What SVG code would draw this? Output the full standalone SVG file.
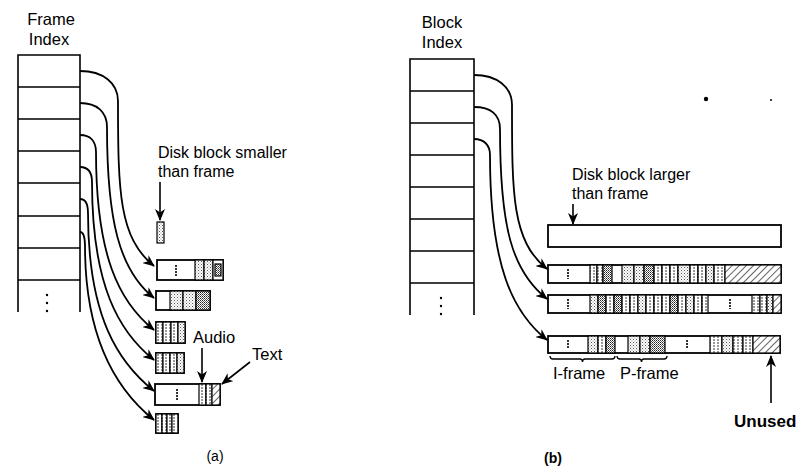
<svg xmlns="http://www.w3.org/2000/svg" width="798" height="470" viewBox="0 0 798 470">
<style>
text{font-family:"Liberation Sans",Arial,sans-serif;font-size:16.5px;fill:#000}
.lb{font-size:16px}
.ix{fill:none;stroke:#000;stroke-width:1.6}
.o{fill:#fff;stroke:#000;stroke-width:1.8}
.s{fill:#fff;stroke:#000;stroke-width:1.2}
.d{fill:url(#dots);stroke:#000;stroke-width:1.2}
.k{fill:url(#dark);stroke:#000;stroke-width:1.2}
.h{fill:url(#hatch);stroke:#000;stroke-width:1.2}
.v{fill:url(#vs);stroke:#000;stroke-width:1.2}
.im{stroke:#000;stroke-width:1.6;stroke-dasharray:2 1}
.c{fill:none;stroke:#000;stroke-width:1.8;marker-end:url(#ah)}
.ar{fill:none;stroke:#000;stroke-width:1.6;marker-end:url(#ah)}
.br{fill:none;stroke:#000;stroke-width:1.3}
</style>
<defs>
<pattern id="dots" width="3" height="3" patternUnits="userSpaceOnUse"><rect width="3" height="3" fill="#fff"/><rect x="0" y="0" width="1" height="1" fill="#555"/><rect x="1.5" y="1.5" width="1" height="1" fill="#888"/></pattern>
<pattern id="dark" width="2" height="2" patternUnits="userSpaceOnUse"><rect width="2" height="2" fill="#fff"/><rect x="0" y="0" width="1" height="1" fill="#222"/><rect x="1" y="1" width="1" height="1" fill="#666"/></pattern>
<pattern id="hatch" width="5" height="5" patternUnits="userSpaceOnUse" patternTransform="rotate(45)"><rect width="5" height="5" fill="#fff"/><line x1="0" y1="0" x2="0" y2="5" stroke="#000" stroke-width="1.2"/></pattern>
<pattern id="vs" width="4" height="3" patternUnits="userSpaceOnUse"><rect width="4" height="3" fill="#fff"/><rect x="1.5" y="0" width="1" height="2" fill="#333"/></pattern>
<marker id="ah" viewBox="0 0 12 10" refX="11" refY="5" markerWidth="12" markerHeight="10" markerUnits="userSpaceOnUse" orient="auto"><path d="M0,0 L12,5 L0,10 L3.5,5 z" fill="#000"/></marker>
</defs>

<!-- Panel (a) -->
<g id="frame-index">
<text x="51" y="25" text-anchor="middle">Frame</text>
<text x="49" y="45" text-anchor="middle">Index</text>
<path class="ix" d="M18,312 V55 H80 V312 M18,87 H80 M18,119 H80 M18,151 H80 M18,183 H80 M18,216 H80 M18,248 H80 M18,280 H80"/>
<circle cx="47" cy="295" r="1.2"/><circle cx="47" cy="303" r="1.2"/><circle cx="47" cy="311" r="1.2"/>
</g>

<g id="small-block-label">
<text class="lb" x="158" y="158">Disk block smaller</text>
<text class="lb" x="158" y="177">than frame</text>
</g>
<g id="small-block"><rect class="d" x="157" y="222" width="7" height="21"/></g>

<g id="a-block1">
<rect class="o" x="157" y="260" width="66" height="20"/>
<rect class="d" x="195" y="260" width="9" height="20"/>
<rect class="d" x="204" y="260" width="9" height="20"/>
<rect class="s" x="213" y="260" width="10" height="20"/>
<rect class="k" x="215" y="264" width="6" height="12"/>
<line class="im" x1="176" y1="265" x2="176" y2="276"/>
</g>
<g id="a-block2">
<rect class="o" x="156" y="291" width="54" height="19"/>
<rect class="d" x="170" y="291" width="13" height="19"/>
<rect class="d" x="183" y="291" width="13" height="19"/>
<rect class="k" x="196" y="291" width="14" height="19"/>
</g>
<g id="a-block3">
<rect class="o" x="156" y="322" width="29" height="21"/>
<rect class="v" x="156" y="322" width="7" height="21"/>
<rect class="v" x="163" y="322" width="8" height="21"/>
<rect class="v" x="171" y="322" width="7" height="21"/>
<rect class="d" x="178" y="322" width="7" height="21"/>
</g>
<g id="a-block4">
<rect class="o" x="156" y="353" width="28" height="20"/>
<rect class="v" x="156" y="353" width="7" height="20"/>
<rect class="v" x="163" y="353" width="7" height="20"/>
<rect class="v" x="170" y="353" width="7" height="20"/>
<rect class="d" x="177" y="353" width="7" height="20"/>
</g>
<g id="a-block5">
<rect class="o" x="155" y="384" width="65" height="21"/>
<rect class="v" x="199" y="384" width="7" height="21"/>
<rect class="v" x="206" y="384" width="6" height="21"/>
<rect class="h" x="212" y="384" width="8" height="21"/>
<line class="im" x1="177" y1="389" x2="177" y2="400"/>
</g>
<g id="a-block6">
<rect class="o" x="156" y="414" width="22" height="19"/>
<rect class="v" x="156" y="414" width="6" height="19"/>
<rect class="v" x="162" y="414" width="5" height="19"/>
<rect class="v" x="167" y="414" width="5" height="19"/>
<rect class="v" x="172" y="414" width="6" height="19"/>
</g>
<g id="audio-text-labels">
<text x="193" y="343">Audio</text>
<text x="252" y="360">Text</text>
</g>
<text x="215" y="461" text-anchor="middle" style="font-size:14px">(a)</text>

<!-- Panel (b) -->
<g id="block-index">
<text x="442" y="28" text-anchor="middle">Block</text>
<text x="442" y="48" text-anchor="middle">Index</text>
<path class="ix" d="M410,315 V59 H474 V315 M410,91 H474 M410,123 H474 M410,155 H474 M410,187 H474 M410,219 H474 M410,251 H474 M410,283 H474"/>
<circle cx="441" cy="298" r="1.2"/><circle cx="441" cy="306" r="1.2"/><circle cx="441" cy="314" r="1.2"/>
</g>
<g id="large-block-label">
<text class="lb" x="572" y="180">Disk block larger</text>
<text class="lb" x="572" y="199">than frame</text>
</g>
<g id="large-block"><rect class="o" x="548" y="225" width="233" height="22"/></g>

<g id="b-row1">
<rect class="o" x="548" y="265" width="233" height="18"/>
<rect class="v" x="590" y="265" width="7" height="18"/>
<rect class="v" x="597" y="265" width="6" height="18"/>
<rect class="k" x="603" y="265" width="9" height="18"/>
<rect class="d" x="622" y="265" width="12" height="18"/>
<rect class="d" x="634" y="265" width="10" height="18"/>
<rect class="k" x="644" y="265" width="10" height="18"/>
<rect class="v" x="654" y="265" width="8" height="18"/>
<rect class="v" x="662" y="265" width="8" height="18"/>
<rect class="v" x="670" y="265" width="8" height="18"/>
<rect class="d" x="678" y="265" width="12" height="18"/>
<rect class="v" x="690" y="265" width="8" height="18"/>
<rect class="v" x="698" y="265" width="8" height="18"/>
<rect class="d" x="706" y="265" width="8" height="18"/>
<rect class="v" x="714" y="265" width="11" height="18"/>
<rect class="h" x="725" y="265" width="56" height="18"/>
<line class="im" x1="568" y1="269" x2="568" y2="279"/>
</g>
<g id="b-row2">
<rect class="o" x="548" y="295" width="233" height="18"/>
<rect class="d" x="590" y="295" width="8" height="18"/>
<rect class="k" x="598" y="295" width="8" height="18"/>
<rect class="v" x="606" y="295" width="8" height="18"/>
<rect class="k" x="614" y="295" width="8" height="18"/>
<rect class="v" x="622" y="295" width="8" height="18"/>
<rect class="v" x="630" y="295" width="8" height="18"/>
<rect class="d" x="638" y="295" width="8" height="18"/>
<rect class="v" x="646" y="295" width="8" height="18"/>
<rect class="v" x="654" y="295" width="8" height="18"/>
<rect class="v" x="662" y="295" width="8" height="18"/>
<rect class="k" x="670" y="295" width="8" height="18"/>
<rect class="v" x="678" y="295" width="8" height="18"/>
<rect class="d" x="686" y="295" width="8" height="18"/>
<rect class="v" x="694" y="295" width="8" height="18"/>
<rect class="v" x="702" y="295" width="6" height="18"/>
<rect class="v" x="752" y="295" width="8" height="18"/>
<rect class="v" x="760" y="295" width="7" height="18"/>
<rect class="d" x="767" y="295" width="6" height="18"/>
<rect class="h" x="773" y="295" width="8" height="18"/>
<line class="im" x1="568" y1="299" x2="568" y2="309"/>
<line class="im" x1="730" y1="299" x2="730" y2="309"/>
</g>
<g id="b-row3">
<rect class="o" x="548" y="336" width="232" height="17"/>
<rect class="d" x="588" y="336" width="10" height="17"/>
<rect class="v" x="598" y="336" width="8" height="17"/>
<rect class="k" x="606" y="336" width="9" height="17"/>
<rect class="d" x="628" y="336" width="12" height="17"/>
<rect class="d" x="640" y="336" width="10" height="17"/>
<rect class="k" x="650" y="336" width="15" height="17"/>
<rect class="v" x="710" y="336" width="12" height="17"/>
<rect class="d" x="722" y="336" width="11" height="17"/>
<rect class="v" x="733" y="336" width="10" height="17"/>
<rect class="v" x="743" y="336" width="10" height="17"/>
<rect class="h" x="753" y="336" width="27" height="17"/>
<line class="im" x1="568" y1="340" x2="568" y2="349"/>
<line class="im" x1="687" y1="340" x2="687" y2="349"/>
</g>
<g id="frame-labels">
<path class="br" d="M550,356 q0,3 3,3 H580 q2.5,0 2.5,3 q0,-3 2.5,-3 H612 q3,0 3,-3"/>
<path class="br" d="M617,356 q0,3 3,3 H639 q2.5,0 2.5,3 q0,-3 2.5,-3 H664 q3,0 3,-3"/>
<text x="553" y="379">I-frame</text>
<text x="620" y="379">P-frame</text>
</g>
<g id="unused-label"><text x="734" y="427" style="font-weight:bold;font-size:17px">Unused</text></g>
<text x="553" y="463" text-anchor="middle" style="font-size:14px;font-weight:bold">(b)</text>
<circle cx="706" cy="99" r="2.2"/>
<circle cx="771" cy="100" r="1"/>

<g id="connectors">
<path class="c" d="M80,71 C103,71 118,83 118,101 C118,192 119,238 154,266"/>
<path class="c" d="M80,103 C97,103 107,112 107,127 C107,220 119,270 154,298"/>
<path class="c" d="M80,135 C90,135 96,141 96,152 C96,256 119,302 154,330"/>
<path class="c" d="M80,167 C88,167 92,172 92,182 C92,286 119,332 154,360"/>
<path class="c" d="M80,199 C86,199 88,204 88,213 C88,318 119,363 154,391"/>
<path class="c" d="M80,232 C84,232 85,237 85,246 C85,342 119,392 154,420"/>
<path class="c" d="M474,75 C497,75 512,87 512,105 C512,195 512,241 547,269"/>
<path class="c" d="M474,107 C491,107 500,115 500,129 C500,228 512,271 547,299"/>
<path class="c" d="M474,139 C484,139 490,145 490,155 C490,265 512,312 547,340"/>
<path class="ar" d="M160,182 V220"/>
<path class="ar" d="M202,348 V382"/>
<path class="ar" d="M250,362 L222,384"/>
<path class="ar" d="M573,204 V224"/>
<path class="ar" d="M771,403 V356"/>
</g>
</svg>
